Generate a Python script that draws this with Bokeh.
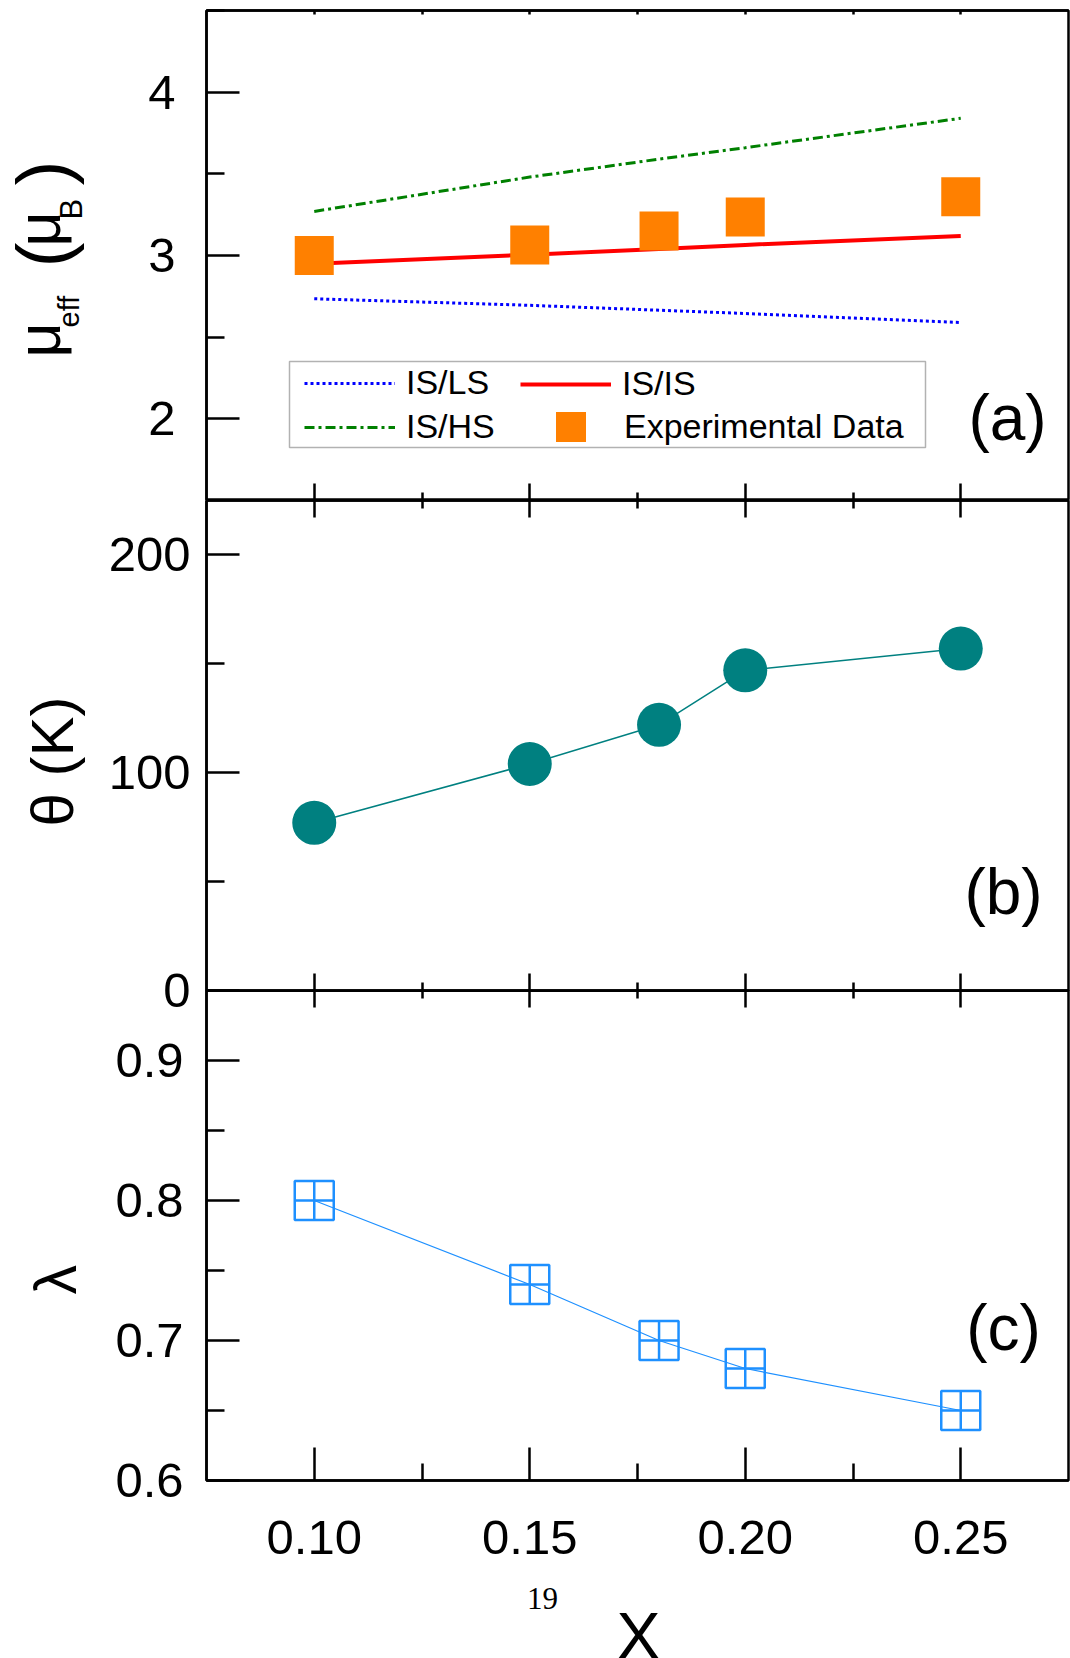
from math import pi
from bokeh.plotting import figure
from bokeh.layouts import column, row
from bokeh.models import (FixedTicker, LinearAxis, Label, Legend, LegendItem,
                          Range1d, BoxAnnotation, NumeralTickFormatter)
from bokeh.embed import file_html
from bokeh.resources import INLINE

# ---------------- data ----------------
x = [0.10, 0.15, 0.18, 0.20, 0.25]
mu_exp = [3.00, 3.065, 3.15, 3.235, 3.36]
mu_is_ls = [2.735, 2.695, 2.665, 2.645, 2.59]
mu_is_is = [2.95, 3.005, 3.04, 3.065, 3.12]
mu_is_hs = [3.27, 3.48, 3.59, 3.66, 3.84]
theta = [77, 104, 122, 147, 157]
lam = [0.80, 0.74, 0.70, 0.68, 0.65]

x_ticks = [0.10, 0.15, 0.20, 0.25]
x_minor = [0.125, 0.175, 0.225]
mu_ticks = [2, 3, 4]
mu_minor = [1.5, 2.5, 3.5, 4.5]
theta_ticks = [0, 100, 200]
theta_minor = [50, 150]
lam_ticks = [0.6, 0.7, 0.8, 0.9]
lam_minor = [0.65, 0.75, 0.85]

FONT = "Liberation Sans"
TICK_FS = "49px"
LW = 2.5

xr = Range1d(0.075, 0.275)


def style_axis(ax, ticks, minor, tin, min_in, labels=True, standoff=10):
    ax.ticker = FixedTicker(ticks=ticks, minor_ticks=minor)
    ax.major_tick_in = tin
    ax.major_tick_out = 0
    ax.minor_tick_in = min_in
    ax.minor_tick_out = 0
    ax.axis_line_color = "black"
    ax.axis_line_width = LW
    ax.major_tick_line_color = "black"
    ax.major_tick_line_width = LW
    ax.minor_tick_line_color = "black"
    ax.minor_tick_line_width = LW
    ax.major_label_text_font = FONT
    ax.major_label_text_color = "black"
    if labels:
        ax.major_label_text_font_size = TICK_FS
        ax.major_label_standoff = standoff
    else:
        ax.major_label_text_font_size = "0px"
        ax.major_label_standoff = 0
    ax.axis_label = None


def make_fig(yr, top, bottom):
    p = figure(frame_width=862, frame_height=490, x_range=xr, y_range=yr,
               output_backend="svg", toolbar_location=None,
               min_border_left=106, min_border_right=2,
               min_border_top=top, min_border_bottom=bottom)
    p.grid.visible = False
    p.outline_line_color = "black"
    p.outline_line_width = LW
    p.background_fill_color = None
    p.border_fill_color = None
    return p


def strip(w, h):
    s = figure(frame_width=w, frame_height=h, x_range=Range1d(0, w), y_range=Range1d(0, h),
               output_backend="svg", toolbar_location=None,
               x_axis_location=None, y_axis_location=None, min_border=0)
    s.grid.visible = False
    s.outline_line_color = None
    s.background_fill_color = None
    s.border_fill_color = None
    return s


def add_text(p, txt, xs, ys, size, angle=0.0, align="left", font=FONT):
    p.add_layout(Label(x=xs, y=ys, x_units="screen", y_units="screen",
                       text=txt, text_font=font, text_font_size=size,
                       text_color="black", angle=angle, text_align=align,
                       text_baseline="alphabetic"))


# ---------------- panel (a) ----------------
p1 = make_fig(Range1d(1.5, 4.5), 10, 0)
style_axis(p1.yaxis[0], mu_ticks, mu_minor, 33, 18, True, 31)
style_axis(p1.xaxis[0], x_ticks, x_minor, 17, 8, False)
top1 = LinearAxis()
style_axis(top1, x_ticks, x_minor, 4, 4, False)
p1.add_layout(top1, "above")

r_ls = p1.line(x, mu_is_ls, line_color="#0000FF", line_width=3, line_dash="3 3")
r_is = p1.line(x, mu_is_is, line_color="#FF0000", line_width=4)
r_hs = p1.line(x, mu_is_hs, line_color="#008000", line_width=3, line_dash="10 4 3 4")
r_exp = p1.scatter(x, mu_exp, marker="square", size=39, fill_color="#FF8000",
                   line_color=None)

p1.add_layout(BoxAnnotation(left=83, right=719, bottom=53, top=139,
                            left_units="screen", right_units="screen",
                            bottom_units="screen", top_units="screen",
                            fill_color=None, line_color="black", line_width=1.5))


def make_legend(items, loc, gw, gh, standoff, spacing):
    return Legend(items=items, location=loc, glyph_width=gw, glyph_height=gh,
                  label_standoff=standoff, spacing=spacing, padding=0, margin=0,
                  label_height=38, label_text_font=FONT, label_text_font_size="34px",
                  label_text_color="black", border_line_color=None,
                  background_fill_color=None, background_fill_alpha=0)


p1.add_layout(make_legend([LegendItem(label="IS/LS", renderers=[r_ls]),
                           LegendItem(label="IS/HS", renderers=[r_hs])],
                          (98, 54), 91, 38, 11, 5))
p1.add_layout(make_legend([LegendItem(label="IS/IS", renderers=[r_is])],
                          (314, 97), 91, 38, 11, 5))
p1.add_layout(make_legend([LegendItem(label="Experimental Data", renderers=[r_exp])],
                          (327, 36), 75, 75, 16, 0))
add_text(p1, "(a)", 801, 83, "64px", 0, "center")

# ---------------- panel (b) ----------------
p2 = make_fig(Range1d(0, 225), 0, 30)
style_axis(p2.yaxis[0], theta_ticks, theta_minor, 33, 18, True, 16)
style_axis(p2.xaxis[0], x_ticks, x_minor, 17, 8, False)
top2 = LinearAxis()
style_axis(top2, x_ticks, x_minor, 17, 8, False)
p2.add_layout(top2, "above")
p2.line(x, theta, line_color="#008080", line_width=1.5)
p2.scatter(x, theta, marker="circle", size=44, fill_color="#008080", line_color=None)
add_text(p2, "(b)", 797, 99, "64px", 0, "center")

# ---------------- panel (c) ----------------
p3 = make_fig(Range1d(0.6, 0.95), 0, 97)
style_axis(p3.yaxis[0], lam_ticks, lam_minor, 33, 18, True, 23)
style_axis(p3.xaxis[0], x_ticks, x_minor, 33, 17, True, 40)
p3.xaxis[0].formatter = NumeralTickFormatter(format="0.00")
top3 = LinearAxis()
style_axis(top3, x_ticks, x_minor, 17, 8, False)
p3.add_layout(top3, "above")
p3.line(x, lam, line_color="#1E90FF", line_width=1.2)
p3.scatter(x, lam, marker="square_cross", size=39, fill_color=None,
           line_color="#1E90FF", line_width=2.5)
add_text(p3, "(c)", 797, 153, "64px", 0, "center")
p3.margin = (-30, 0, 0, 0)

# ---------------- bottom strip: page number and x label ----------------
bottom = strip(970, 81)
add_text(bottom, "19", 336, 60, "31px", 0, "center", "Liberation Serif")
add_text(bottom, "X", 432, 23, "66px", 0, "center")

# ---------------- left strip: rotated y-axis titles ----------------
left = strip(100, 1658)
# (a)  mu_eff (mu_B)
add_text(left, "μ", 38, 1301, "61px", pi / 2)
add_text(left, "eff", 68, 1331, "29px", pi / 2)
add_text(left, "(", 42, 1391, "75px", pi / 2)
add_text(left, "μ", 38, 1412, "61px", pi / 2)
add_text(left, "B", 71, 1439, "31px", pi / 2)
add_text(left, ")", 42, 1473, "75px", pi / 2)
# (b)
add_text(left, "θ (K)", 52, 832, "60px", pi / 2)
# (c)
add_text(left, "λ", 55, 364, "59px", pi / 2)

layout = row(left, column(p1, p2, p3, bottom, spacing=0), spacing=0)
open("out.html", "w").write(file_html(layout, INLINE))
